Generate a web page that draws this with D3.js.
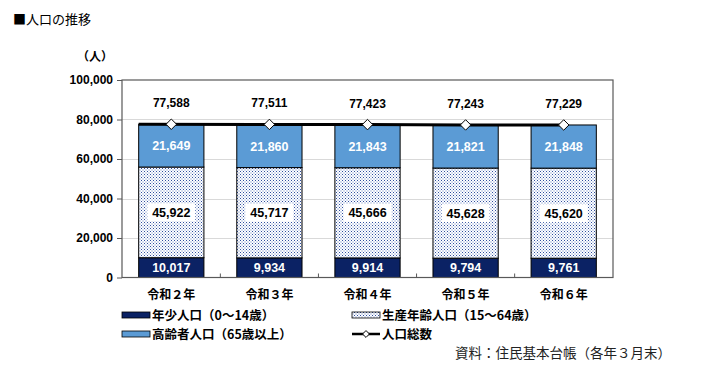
<!DOCTYPE html>
<html>
<head>
<meta charset="utf-8">
<script src="https://cdn.jsdelivr.net/npm/d3@7"></script>
<style>
  body { margin: 0; background: #fff; }
  svg { font-family: "Noto Sans CJK JP", sans-serif; }
</style>
</head>
<body>
<div id="chart"></div>
<script>
let width = 722, height = 375;
let margin = ({top: 80, right: 109, bottom: 98, left: 122});

// data
let years = ["令和２年", "令和３年", "令和４年", "令和５年", "令和６年"];
let young = [10017, 9934, 9914, 9794, 9761];
let working = [45922, 45717, 45666, 45628, 45620];
let elderly = [21649, 21860, 21843, 21821, 21848];
let total = [77588, 77511, 77423, 77243, 77229];
let yTicks = [0, 20000, 40000, 60000, 80000, 100000];

let rows = years.map((y, i) => ({year: y, young: young[i], working: working[i], elderly: elderly[i], total: total[i]}));
let keys = ["young", "working", "elderly"];
let stack = d3.stack().keys(keys)(rows);

let x = d3.scaleBand().domain(years).range([margin.left, width - margin.right]).paddingInner(0.335).paddingOuter(0.17);
let y = d3.scaleLinear().domain([0, 100000]).range([height - margin.bottom + 0.5, margin.top]);

let svg = d3.select("#chart").append("svg")
    .attr("width", width).attr("height", height)
    .attr("viewBox", [0, 0, width, height]);

let defs = svg.append("defs");
let pat = defs.append("pattern")
    .attr("id", "dots").attr("patternUnits", "userSpaceOnUse")
    .attr("width", 3).attr("height", 3);
pat.append("rect").attr("width", 3).attr("height", 3).attr("fill", "#fff");
pat.append("rect").attr("x", 0).attr("y", 0).attr("width", 1).attr("height", 1).attr("fill", "#2f4f9f");
pat.append("rect").attr("x", 1.5).attr("y", 1.5).attr("width", 1).attr("height", 1).attr("fill", "#5a78c0");

let fills = {young: "#0b2264", working: "url(#dots)", elderly: "#5b9bd5"};

// title
svg.append("text").attr("x", 13).attr("y", 24)
    .attr("font-size", 13).attr("fill", "#000").text("■人口の推移");
svg.append("text").attr("x", 113).attr("y", 61).attr("text-anchor", "end")
    .attr("font-size", 12).attr("font-weight", "bold").text("（人）");

// grid
svg.append("g")
    .selectAll("line")
    .data(yTicks.slice(1, -1))
    .join("line")
    .attr("x1", margin.left).attr("x2", width - margin.right)
    .attr("y1", d => Math.round(y(d)) + 0.5).attr("y2", d => Math.round(y(d)) + 0.5)
    .attr("stroke", "#d9d9d9");

// y axis
let yAxis = g => g
    .attr("transform", `translate(${margin.left},0)`)
    .call(d3.axisLeft(y).tickValues(yTicks).tickSize(5).tickFormat(d3.format(",")))
    .call(g => g.select(".domain").remove())
    .call(g => g.selectAll(".tick line").attr("stroke", "#595959"))
    .call(g => g.selectAll(".tick text").attr("font-size", 12).attr("font-weight", "bold")
        .attr("font-family", "Liberation Sans, Arial, sans-serif").attr("fill", "#000").attr("x", -9));
svg.append("g").call(yAxis);

// bars
svg.append("g")
    .selectAll("g")
    .data(stack)
    .join("g")
    .attr("fill", d => fills[d.key])
    .selectAll("rect")
    .data(d => d)
    .join("rect")
    .attr("x", d => x(d.data.year))
    .attr("y", d => y(d[1]))
    .attr("width", x.bandwidth())
    .attr("height", d => y(d[0]) - y(d[1]))
    .attr("stroke", "#000").attr("stroke-width", 1);

// frame
svg.append("rect")
    .attr("x", margin.left).attr("y", margin.top)
    .attr("width", width - margin.right - margin.left)
    .attr("height", y(0) - margin.top)
    .attr("fill", "none").attr("stroke", "#595959").attr("stroke-width", 1.2);

// x axis tick marks between categories
svg.append("g")
    .selectAll("line")
    .data(years.slice(1))
    .join("line")
    .attr("x1", d => x(d) - x.step() * x.paddingInner() / 2)
    .attr("x2", d => x(d) - x.step() * x.paddingInner() / 2)
    .attr("y1", y(0)).attr("y2", y(0) - 4)
    .attr("stroke", "#595959");

// x labels
svg.append("g")
    .selectAll("text")
    .data(years)
    .join("text")
    .attr("x", d => x(d) + x.bandwidth() / 2)
    .attr("y", 299)
    .attr("text-anchor", "middle")
    .attr("font-size", 12).attr("font-weight", "bold")
    .text(d => d);

// total line
let cx = d => x(d.year) + x.bandwidth() / 2;
svg.append("path")
    .attr("fill", "none").attr("stroke", "#000").attr("stroke-width", 3)
    .attr("d", d3.line().x((d, i) => cx(d) + (i === 0 ? -x.bandwidth() / 2 : 0)).y(d => y(d.total))(rows));
svg.append("g")
    .selectAll("path")
    .data(rows)
    .join("path")
    .attr("transform", d => `translate(${cx(d)},${y(d.total)})`)
    .attr("d", d3.symbol().type(d3.symbolDiamond2).size(70)())
    .attr("fill", "#fff").attr("stroke", "#000").attr("stroke-width", 1);

let numFont = "Liberation Sans, Arial, sans-serif";
let fmt = d3.format(",");

// total labels
svg.append("g")
    .selectAll("text")
    .data(rows)
    .join("text")
    .attr("x", d => cx(d)).attr("y", d => y(d.total) - 17)
    .attr("text-anchor", "middle")
    .attr("font-family", numFont).attr("font-size", 12).attr("font-weight", "bold")
    .text(d => fmt(d.total));

// segment labels
let segLabels = svg.append("g")
    .attr("font-family", numFont).attr("font-size", 12.5).attr("font-weight", "bold")
    .attr("text-anchor", "middle");
stack.forEach(s => {
  s.forEach(d => {
    let mx = cx(d.data), my = (y(d[0]) + y(d[1])) / 2;
    let txt = fmt(d.data[s.key]);
    if (s.key === "working") {
      segLabels.append("rect")
          .attr("x", mx - 24).attr("y", my - 9).attr("width", 48).attr("height", 18)
          .attr("fill", "#fff");
    }
    segLabels.append("text")
        .attr("x", mx).attr("y", my + 4.5)
        .attr("fill", s.key === "working" ? "#000" : "#fff")
        .text(txt);
  });
});

// legend
let legend = [
  {label: "年少人口（0～14歳）", type: "young", x: 122, y: 315},
  {label: "生産年齢人口（15～64歳）", type: "working", x: 352, y: 315},
  {label: "高齢者人口（65歳以上）", type: "elderly", x: 122, y: 334},
  {label: "人口総数", type: "line", x: 352, y: 334}
];
let lg = svg.append("g");
legend.forEach(l => {
  if (l.type === "line") {
    lg.append("line").attr("x1", l.x).attr("x2", l.x + 28).attr("y1", l.y).attr("y2", l.y)
        .attr("stroke", "#000").attr("stroke-width", 2.5);
    lg.append("path").attr("transform", `translate(${l.x + 14},${l.y})`)
        .attr("d", d3.symbol().type(d3.symbolDiamond2).size(30)())
        .attr("fill", "#fff").attr("stroke", "#000");
  } else {
    lg.append("rect").attr("x", l.x).attr("y", l.y - 3).attr("width", 28).attr("height", 6)
        .attr("fill", fills[l.type]).attr("stroke", "#000").attr("stroke-width", 0.8);
  }
  lg.append("text").attr("x", l.x + 30).attr("y", l.y + 4.5)
      .attr("font-size", 12.5).attr("font-weight", "bold").text(l.label);
});

// source
svg.append("text").attr("x", 455).attr("y", 358)
    .attr("font-size", 13.5).attr("fill", "#222").text("資料：住民基本台帳（各年３月末）");
</script>
</body>
</html>
